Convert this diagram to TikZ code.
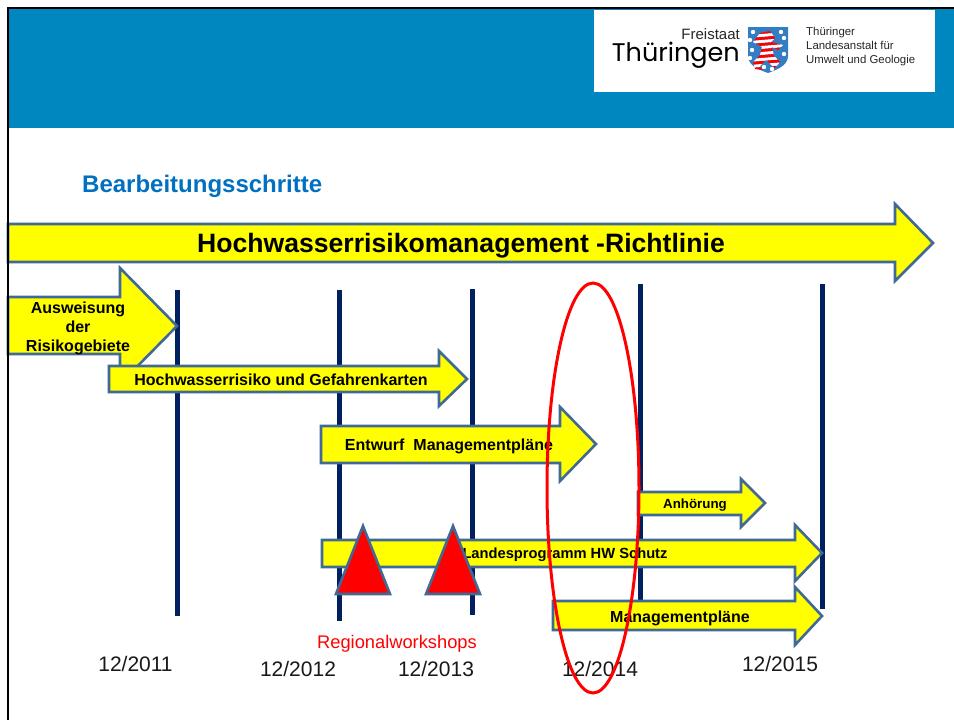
\documentclass[tikz,border=0pt]{standalone}
\usepackage{fontspec}
\setmainfont{Liberation Sans}
\newfontfamily\logofont{Poppins}
\definecolor{dhead}{RGB}{0,135,192}
\definecolor{dtitle}{RGB}{0,112,192}
\definecolor{dnavy}{RGB}{0,32,96}
\definecolor{dedge}{RGB}{65,105,150}
\definecolor{dyellow}{RGB}{255,255,0}
\definecolor{dred}{RGB}{255,0,0}
\definecolor{dshield}{RGB}{50,125,195}
\tikzset{
    timeline/.style={dnavy,line width=5pt},
    yarrow/.style={draw=dedge,line width=2.6pt,fill=dyellow,line join=miter},
    workshop/.style={draw=dedge,line width=2.6pt,fill=dred},
    arrowlabel/.style={font=\bfseries\fontsize{16}{19}\selectfont,align=center,inner sep=0pt},
    datelabel/.style={font=\fontsize{21}{24}\selectfont,text=black!90,inner sep=0pt},
    logotext/.style={font=\fontsize{11.4}{14}\selectfont,text=black!85,anchor=base west,inner sep=0pt},
}
\begin{document}
\begin{tikzpicture}[x=1pt,y=-1pt]
\useasboundingbox (0,0) rectangle (954,720);
\fill[white] (0,0) rectangle (954,720);
\fill[dhead] (8,8) rectangle (954,128);
\fill[white] (594,10) rectangle (935,92);
% logo
\node[font=\fontsize{15}{18}\selectfont,text=black!85,anchor=base east,inner sep=0pt] (freistaat) at (740,39) {Freistaat};
\node[font=\logofont\fontsize{25.5}{30}\selectfont,text=black,anchor=base east,inner sep=0pt] (thueringen) at (740,61) {Thüringen};
\fill[dshield] (748,27) -- (788,27) -- (788,56) .. controls (788,66) and (776,70) .. (768,73) .. controls (760,70) and (748,66) .. (748,56) -- cycle;
\begin{scope}
\clip (760,33) -- (770,31) -- (775,38) -- (771,42) -- (783,45) -- (778,50) -- (772,47) -- (774,56) -- (780,62) -- (775,68) -- (770,64) -- (766,60) -- (760,66) -- (762,70) -- (755,69) -- (753,62) -- (760,55) -- (762,47) -- (753,42) -- cycle;
\foreach \y in {32,38,44,50,56,62,68} {
    \fill[dred] (750,\y) -- (786,\y-3) -- (786,\y) -- (750,\y+3) -- cycle;
    \fill[white] (750,\y+3) -- (786,\y) -- (786,\y+3) -- (750,\y+6) -- cycle;
}
\end{scope}
\foreach \x/\y in {753/32,781/32,752/50,784/38,750/40,784/54,750/58,764/67,772/69} {
    \fill[white] (\x,\y) circle (2.2pt);
}
\node[logotext] (thlug1) at (806,35) {Thüringer};
\node[logotext] (thlug2) at (806,49.5) {Landesanstalt für};
\node[logotext] (thlug3) at (806,63) {Umwelt und Geologie};
% title
\node[font=\bfseries\fontsize{24}{28}\selectfont,text=dtitle,anchor=west,inner sep=0pt] (title) at (82,186) {Bearbeitungsschritte};
% years
\foreach \x/\a/\b in {177/290/616,339/290/621,472/289/615,640/284/610,822/284/609} {
    \draw[timeline] (\x,\a) -- (\x,\b);
}
% arrows: left, neck, tip, head top, shaft top, middle, shaft bottom, head bottom
\foreach \xa/\xb/\xc/\ya/\yb/\yc/\yd/\ye in {
    8/895/933/204/224/243/262/281,
    8/120/177/268/297/326/354/384,
    109/439/467/351/366/379/392/406,
    321/560/596/407/426/444/463/481,
    638/741/765/479/492/503/515/527,
    322/795/822/525/540/553/567/581,
    553/795/822/587/601/616/630/645} {
    \draw[yarrow] (\xa,\yb) -- (\xb,\yb) -- (\xb,\ya) -- (\xc,\yc) -- (\xb,\ye) -- (\xb,\yd) -- (\xa,\yd) -- cycle;
}
\node[arrowlabel,font=\bfseries\fontsize{26.6}{30}\selectfont] (hwrm) at (461,246) {Hochwasserrisikomanagement -Richtlinie};
\node[arrowlabel] (ausw) at (78,328) {Ausweisung\\der\\Risikogebiete};
\node[arrowlabel] (karten) at (281,380) {Hochwasserrisiko und Gefahrenkarten};
\node[arrowlabel] (entwurf) at (449,446) {Entwurf\ \ Managementpläne};
\node[arrowlabel,font=\bfseries\fontsize{13.3}{15}\selectfont] (anhoerung) at (695,505.5) {Anhörung};
\node[arrowlabel,font=\bfseries\fontsize{14.7}{17}\selectfont] (landes) at (565,555) {Landesprogramm HW Schutz};
\node[arrowlabel] (mplaene) at (680,618) {Managementpläne};
% workshops
\foreach \x in {363,453} {
    \draw[workshop] (\x,526) -- (\x+27,594) -- (\x-27,594) -- cycle;
}
\node[font=\fontsize{18.3}{21}\selectfont,text=dred,inner sep=0pt] (workshops) at (397,644) {Regionalworkshops};
\node[datelabel] (d2011) at (135.5,663.5) {12/2011};
\node[datelabel] (d2012) at (298,668.5) {12/2012};
\node[datelabel] (d2013) at (436,668.5) {12/2013};
\node[datelabel] (d2014) at (600,668.5) {12/2014};
\node[datelabel] (d2015) at (780,663.5) {12/2015};
\draw[dred,line width=3pt] (593,488) ellipse (46 and 205);
% frame
\draw[black,line width=2.5pt] (8,720) -- (8,8) -- (954,8);
\end{tikzpicture}
\end{document}
